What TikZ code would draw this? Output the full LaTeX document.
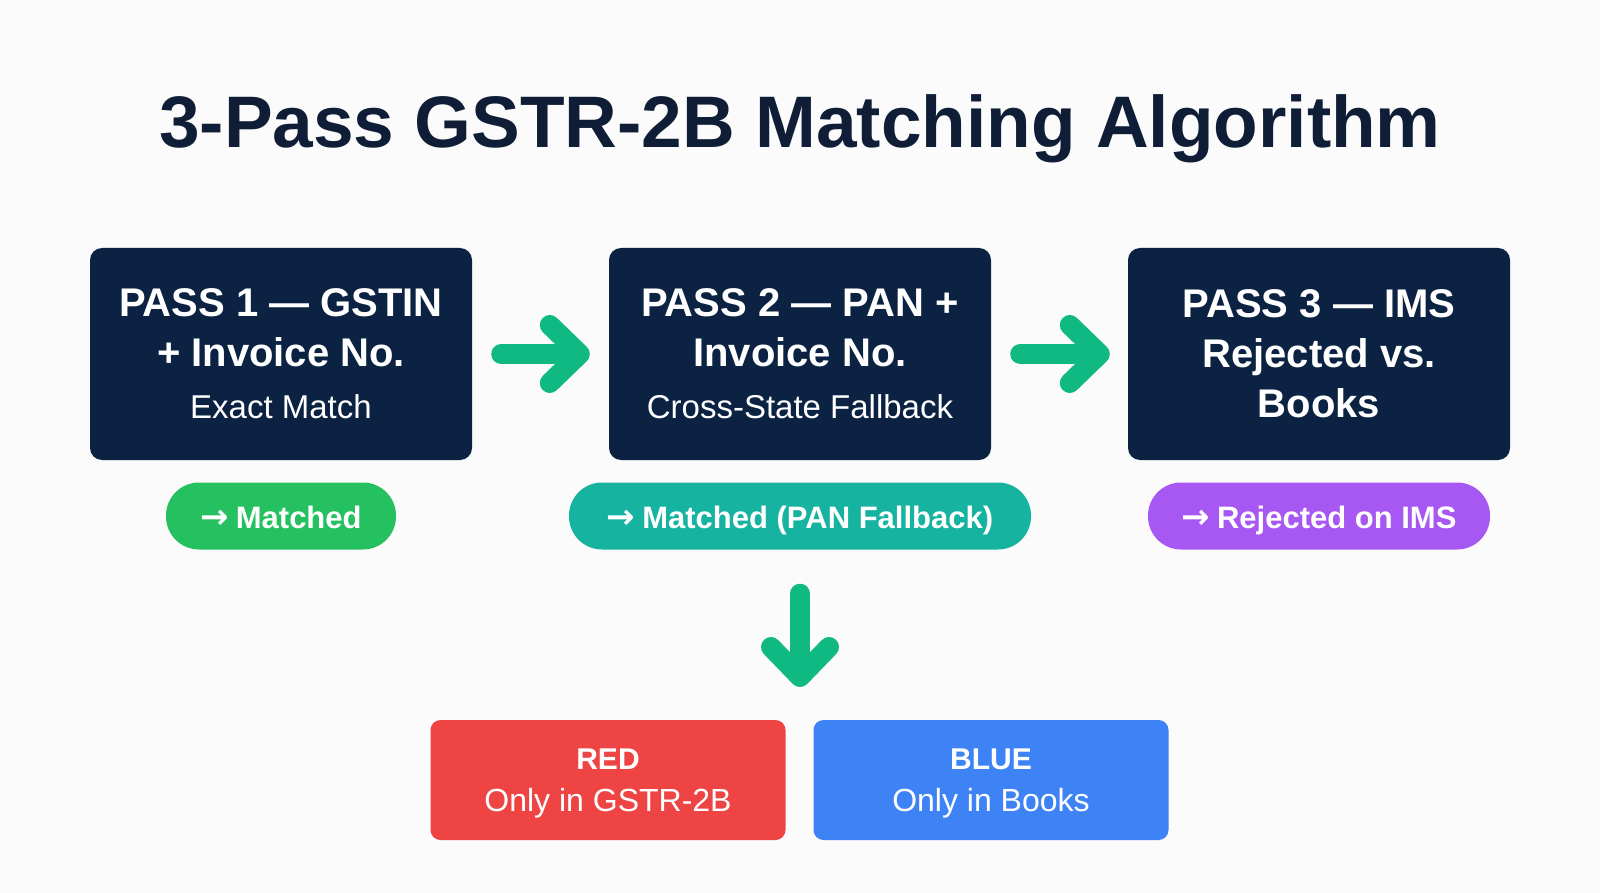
\documentclass[tikz,border=0pt]{standalone}
\usepackage{fontspec}
\setmainfont{Liberation Sans}
\newfontfamily\arrowfont{DejaVu Sans}
\usetikzlibrary{arrows.meta,positioning}

\definecolor{paper}{HTML}{FBFBFB}
\definecolor{titleink}{HTML}{0F1E36}
\definecolor{navy}{HTML}{0B2242}
\definecolor{flowgreen}{HTML}{10B981}
\definecolor{pillgreen}{HTML}{25C160}
\definecolor{pillteal}{HTML}{17B3A1}
\definecolor{pillviolet}{HTML}{A757F2}
\definecolor{onlyred}{HTML}{EE4444}
\definecolor{onlyblue}{HTML}{3E83F6}

\newcommand{\passnote}[1]{{\mdseries\fontsize{33}{40}\selectfont #1}}
\newcommand{\goesto}{{\arrowfont\bfseries\fontsize{34}{38}\selectfont →}\hspace{7pt}}

\tikzset{
  pass/.style={fill=navy, rounded corners=12pt, minimum width=382pt, minimum height=212pt,
    text=white, align=center, font=\bfseries\fontsize{40}{50}\selectfont},
  pill/.style={rounded corners=33pt, minimum height=67pt, text=white,
    text height=24pt, text depth=0pt, font=\bfseries\fontsize{31}{38}\selectfont},
  outcome/.style={rounded corners=10pt, minimum width=355pt, minimum height=120pt,
    text=white, align=center, text depth=0pt, font=\fontsize{32}{41}\selectfont},
  flow/.style={draw=flowgreen, line width=20pt, line cap=round,
    -{Straight Barb[length=30pt,width=58pt,round]}},
}

\begin{document}
\begin{tikzpicture}[x=1pt,y=-1pt]
    \fill[paper] (0,0) rectangle (1600,893);
    %title
    \node[anchor=base, text=titleink, font=\bfseries\fontsize{73}{80}\selectfont] (title) at (800,148)
        {3-Pass GSTR-2B Matching Algorithm};
    %passes
    \node[pass] (pass1) at (281,354) {PASS 1 — GSTIN\\+ Invoice No.\\[2pt]\passnote{Exact Match}};
    \node[pass] (pass2) at (800,354) {PASS 2 — PAN +\\Invoice No.\\[2pt]\passnote{Cross-State Fallback}};
    \node[pass] (pass3) at (1319,354) {PASS 3 — IMS\\Rejected vs.\\Books};
    %results
    \node[pill, fill=pillgreen, minimum width=230pt] (res1) at (281,516) {\goesto Matched};
    \node[pill, fill=pillteal, minimum width=462pt] (res2) at (800,516) {\goesto Matched (PAN Fallback)};
    \node[pill, fill=pillviolet, minimum width=342pt] (res3) at (1319,516) {\goesto Rejected on IMS};
    %leftovers
    \node[outcome, fill=onlyred] (red) at (608,780) {\textbf{\fontsize{30}{36}\selectfont RED}\\[1pt]Only in GSTR-2B};
    \node[outcome, fill=onlyblue] (blue) at (991,780) {\textbf{\fontsize{30}{36}\selectfont BLUE}\\[1pt]Only in Books};
    \coordinate (fork) at (800,720);
    %edges
    \draw[flow, shorten <=29pt, shorten >=19pt] (pass1) -- (pass2);
    \draw[flow, shorten <=29pt, shorten >=18pt] (pass2) -- (pass3);
    \draw[flow, shorten <=44pt, shorten >=33pt] (res2) -- (fork);
\end{tikzpicture}
\end{document}
